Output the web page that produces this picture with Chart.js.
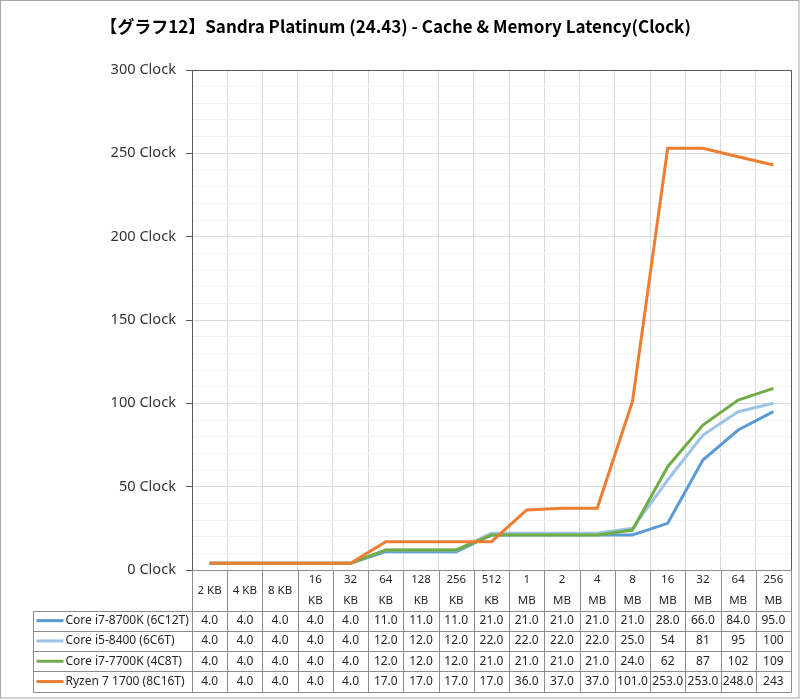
<!DOCTYPE html>
<html>
<head>
<meta charset="utf-8">
<script src="https://cdn.jsdelivr.net/npm/chart.js@4/dist/chart.umd.min.js"></script>
<style>
  html, body { margin: 0; padding: 0; background: #fff; }
</style>
</head>
<body>
<canvas id="chart" width="800" height="700"></canvas>
<script>
const titleText = '【グラフ12】Sandra Platinum (24.43) - Cache & Memory Latency(Clock)';

// block sizes (multi-line like the table header)
const sizes = ['2 KB', '4 KB', '8 KB', ['16', 'KB'], ['32', 'KB'], ['64', 'KB'], ['128', 'KB'],
  ['256', 'KB'], ['512', 'KB'], ['1', 'MB'], ['2', 'MB'], ['4', 'MB'], ['8', 'MB'],
  ['16', 'MB'], ['32', 'MB'], ['64', 'MB'], ['256', 'MB']];

// latency in clocks, kept as the table shows them
const i7_8700k = ['4.0', '4.0', '4.0', '4.0', '4.0', '11.0', '11.0', '11.0', '21.0', '21.0', '21.0', '21.0', '21.0', '28.0', '66.0', '84.0', '95.0'];
const i5_8400 = ['4.0', '4.0', '4.0', '4.0', '4.0', '12.0', '12.0', '12.0', '22.0', '22.0', '22.0', '22.0', '25.0', '54', '81', '95', '100'];
const i7_7700k = ['4.0', '4.0', '4.0', '4.0', '4.0', '12.0', '12.0', '12.0', '21.0', '21.0', '21.0', '21.0', '24.0', '62', '87', '102', '109'];
const ryzen1700 = ['4.0', '4.0', '4.0', '4.0', '4.0', '17.0', '17.0', '17.0', '17.0', '36.0', '37.0', '37.0', '101.0', '253.0', '253.0', '248.0', '243'];

const seriesNames = ['Core i7-8700K (6C12T)', 'Core i5-8400 (6C6T)', 'Core i7-7700K (4C8T)', 'Ryzen 7 1700 (8C16T)'];
const seriesColors = ['#5b9bd5', '#9dc3e6', '#70ad47', '#ed7d31'];
const seriesValues = [i7_8700k, i5_8400, i7_7700k, ryzen1700];

const textFont = '"Noto Sans", "DejaVu Sans", sans-serif';

// draws the Excel-like data table under the plot, columns follow the x scale
const dataTablePlugin = {
  id: 'dataTable',
  beforeDraw(chart) {
    const ctx = chart.ctx;
    ctx.save();
    ctx.fillStyle = '#fff';
    ctx.fillRect(0, 0, chart.width, chart.height);
    ctx.restore();
  },
  afterDraw(chart) {
    const { ctx, chartArea } = chart;
    const x = chart.scales.x;
    const n = sizes.length;
    const colW = x.width / n;
    const left = x.getPixelForValue(0) - colW / 2;
    const top = chartArea.bottom;
    const headH = 40.5;
    const rowH = 20.3;
    const legendLeft = 33.5;
    const bottom = top + headH + rowH * seriesNames.length;

    ctx.save();
    // plot frame top/right
    ctx.strokeStyle = '#595959';
    ctx.lineWidth = 1;
    ctx.beginPath();
    ctx.moveTo(Math.round(chartArea.left) + 0.5, Math.round(chartArea.top) + 0.5);
    ctx.lineTo(Math.round(chartArea.right) + 0.5, Math.round(chartArea.top) + 0.5);
    ctx.lineTo(Math.round(chartArea.right) + 0.5, Math.round(chartArea.bottom) + 0.5);
    ctx.stroke();

    // table grid
    ctx.strokeStyle = '#8c8c8c';
    ctx.beginPath();
    const ty = Math.round(top) + 0.5;
    ctx.moveTo(Math.round(left) + 0.5, ty);
    ctx.lineTo(Math.round(left + colW * n) + 0.5, ty);
    for (let r = 0; r <= seriesNames.length; r++) {
      const y = Math.round(top + headH + r * rowH) + 0.5;
      ctx.moveTo(legendLeft, y);
      ctx.lineTo(Math.round(left + colW * n) + 0.5, y);
    }
    for (let i = 0; i <= n; i++) {
      const px = Math.round(left + i * colW) + 0.5;
      ctx.moveTo(px, ty);
      ctx.lineTo(px, Math.round(bottom) + 0.5);
    }
    ctx.moveTo(legendLeft, Math.round(top + headH) + 0.5);
    ctx.lineTo(legendLeft, Math.round(bottom) + 0.5);
    ctx.stroke();

    // header labels
    ctx.fillStyle = '#262626';
    ctx.textAlign = 'center';
    ctx.textBaseline = 'middle';
    ctx.font = '11.5px ' + textFont;
    sizes.forEach((lab, i) => {
      const cx = x.getPixelForValue(i);
      if (Array.isArray(lab)) {
        ctx.fillText(lab[0], cx, top + 10);
        ctx.fillText(lab[1], cx, top + 30.5);
      } else {
        ctx.fillText(lab, cx, top + headH / 2);
      }
    });

    // rows
    seriesNames.forEach((name, r) => {
      const cy = top + headH + r * rowH + rowH / 2;
      ctx.strokeStyle = seriesColors[r];
      ctx.lineWidth = 3;
      ctx.beginPath();
      ctx.moveTo(legendLeft + 3, cy);
      ctx.lineTo(legendLeft + 30, cy);
      ctx.stroke();
      ctx.fillStyle = '#262626';
      ctx.textAlign = 'left';
      ctx.font = '12px ' + textFont;
      ctx.fillText(name, legendLeft + 32, cy);
      ctx.textAlign = 'center';
      seriesValues[r].forEach((v, i) => {
        ctx.fillText(v, x.getPixelForValue(i), cy);
      });
    });

    // outer frame
    ctx.strokeStyle = '#a6a6a6';
    ctx.lineWidth = 1;
    ctx.strokeRect(0.5, 0.5, chart.width - 1.5, chart.height - 2.5);
    ctx.restore();
  }
};

new Chart(document.getElementById('chart'), {
  type: 'line',
  data: {
    labels: sizes,
    datasets: seriesNames.map((name, k) => ({
      label: name,
      data: seriesValues[k].map(Number),
      borderColor: seriesColors[k],
      backgroundColor: seriesColors[k],
      borderWidth: 3,
      pointRadius: 0,
      tension: 0,
      fill: false,
      order: seriesNames.length - k
    }))
  },
  options: {
    responsive: false,
    animation: false,
    devicePixelRatio: 1,
    layout: { padding: { left: 0, right: 9, top: 0, bottom: 0 } },
    plugins: {
      legend: { display: false },
      tooltip: { enabled: false },
      title: {
        display: true,
        text: titleText,
        color: '#000',
        font: { family: '"Noto Sans CJK JP", "Noto Sans", sans-serif', size: 17, weight: 'bold' },
        padding: { top: 16, bottom: 33.6 }
      }
    },
    scales: {
      x: {
        offset: true,
        grid: { display: true, offset: true, color: '#d9d9d9', drawTicks: false },
        border: { display: false },
        ticks: { display: false },
        afterFit(scale) { scale.height = 130; }
      },
      y: {
        min: 0,
        max: 300,
        ticks: {
          stepSize: 10,
          autoSkip: false,
          padding: 10,
          color: '#333',
          font: { family: textFont, size: 14.6 },
          callback: v => (v % 50 === 0 ? v + ' Clock' : '')
        },
        grid: {
          tickLength: 6,
          color: c => (c.tick && c.tick.value % 50 === 0 ? '#d9d9d9' : '#f2f2f2'),
          tickColor: c => (c.tick && c.tick.value % 50 === 0 ? '#595959' : 'rgba(0,0,0,0)')
        },
        border: { display: true, color: '#595959' },
        afterFit(scale) { scale.width = 192; }
      }
    }
  },
  plugins: [dataTablePlugin]
});
</script>
</body>
</html>
